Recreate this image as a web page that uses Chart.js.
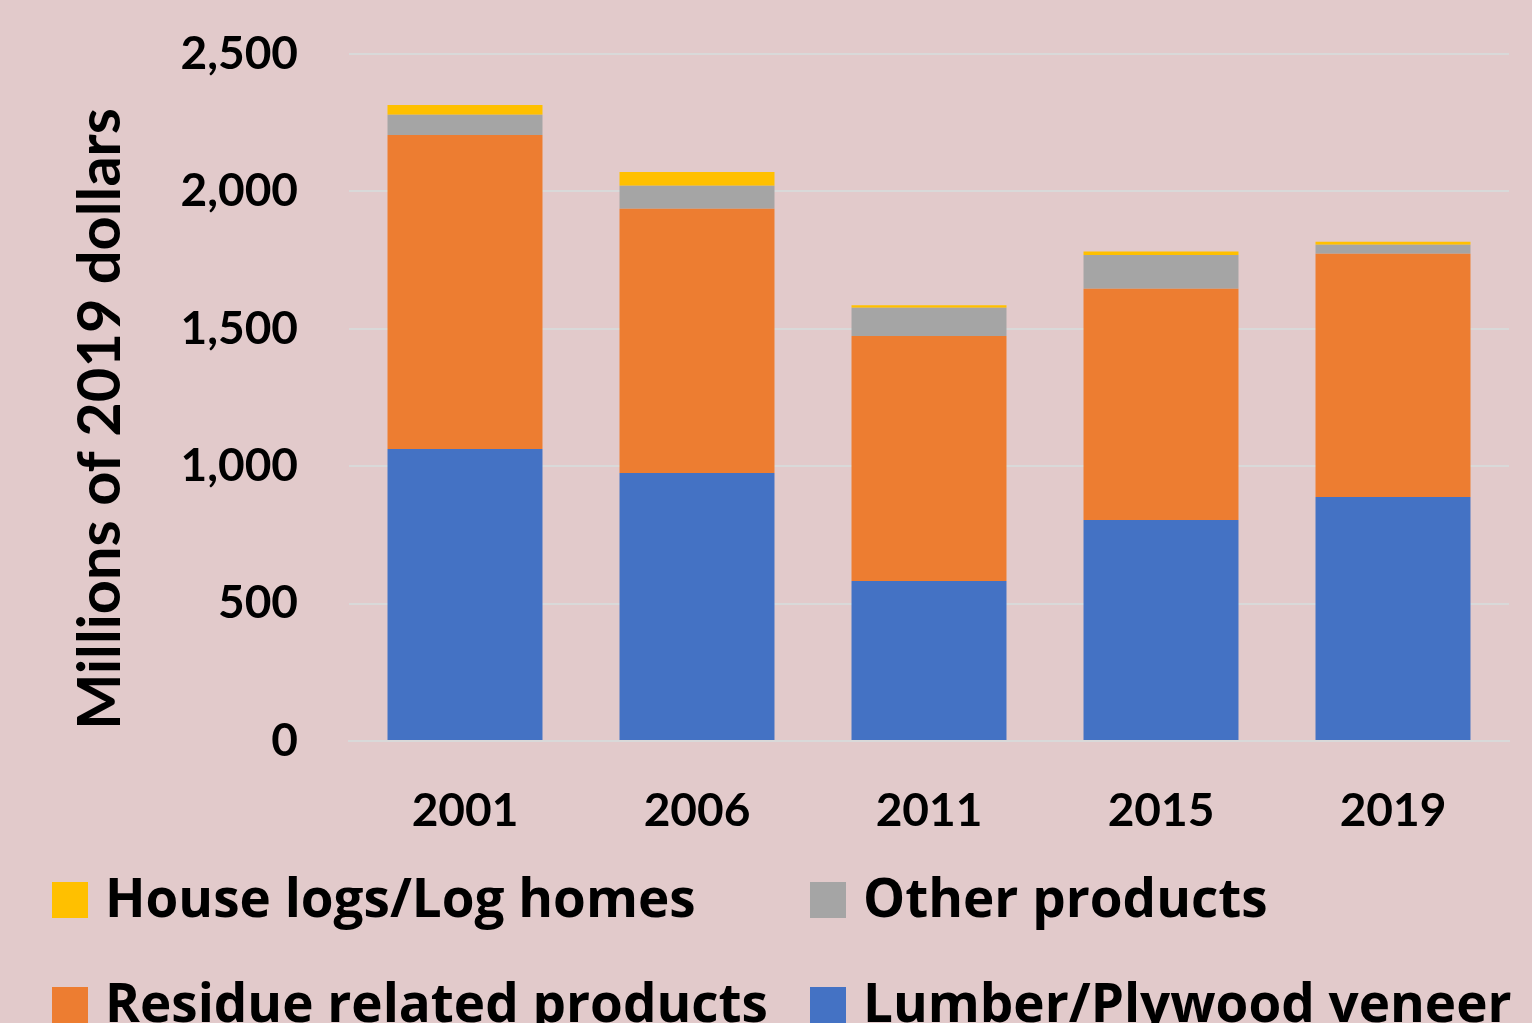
<!DOCTYPE html>
<html>
<head>
<meta charset="utf-8">
<script src="https://cdn.jsdelivr.net/npm/chart.js@4/dist/chart.umd.min.js"></script>
<style>
  html, body { margin:0; padding:0; background:#E2CACB; overflow:hidden; }
  #wrap { position:relative; width:1532px; height:1023px; }
  canvas { position:absolute; left:0; top:0; }
  .leg { position:absolute; display:flex; align-items:center; font-family:"Open Sans", sans-serif; font-weight:bold; font-size:53px; color:#000; white-space:nowrap; line-height:1; }
  .leg .box { width:36px; height:36px; margin-right:17px; flex:none; }
  .leg .txt { position:relative; top:-3px; }
</style>
</head>
<body>
<div id="wrap">
  <canvas id="c" width="1532" height="1023"></canvas>
  <div id="legend"></div>
</div>
<script>
const categories = ["2001", "2006", "2011", "2015", "2019"];
const lumberPlywood = [1063, 975, 582, 804, 888];
const residueProducts = [1142, 962, 892, 842, 885];
const otherProducts = [74, 84, 103, 123, 33];
const houseLogs = [35, 50, 9, 12, 11];
const yTicks = [0, 500, 1000, 1500, 2000, 2500];
const yTitle = "Millions of 2019 dollars";
const seriesNames = ["Lumber/Plywood veneer", "Residue related products", "Other products", "House logs/Log homes"];
const seriesColors = ["#4472C4", "#ED7D31", "#A5A5A5", "#FFC000"];
const seriesData = [lumberPlywood, residueProducts, otherProducts, houseLogs];

const datasets = seriesNames.map((n, i) => ({
  label: n,
  data: seriesData[i],
  backgroundColor: seriesColors[i],
  borderWidth: 0,
  categoryPercentage: 1.0,
  barPercentage: 0.668
}));

const font = { family: "Lato, sans-serif", weight: "bold", size: 46 };

// y-axis title drawn Excel-style (offset slightly below the axis centre)
const yTitlePlugin = {
  id: "yTitle",
  afterDraw(chart) {
    const ctx = chart.ctx;
    ctx.save();
    ctx.translate(101, 419);
    ctx.rotate(-Math.PI / 2);
    ctx.font = "bold 59.5px Lato, sans-serif";
    ctx.fillStyle = "#000";
    ctx.textAlign = "center";
    ctx.textBaseline = "middle";
    ctx.fillText(yTitle, 0, 0);
    ctx.restore();
  }
};

new Chart(document.getElementById("c"), {
  type: "bar",
  data: { labels: categories, datasets },
  options: {
    responsive: false,
    animation: false,
    layout: { padding: { top: 54, right: 23, left: 0, bottom: 0 } },
    plugins: { legend: { display: false }, tooltip: { enabled: false } },
    scales: {
      x: {
        stacked: true,
        grid: { display: false, drawTicks: false },
        border: { display: true, color: "#D9D9D9", width: 2 },
        ticks: { color: "#000", font, padding: 43 },
        afterFit: s => { s.height = 282; }
      },
      y: {
        stacked: true,
        min: 0, max: 2500,
        afterBuildTicks: s => { s.ticks = yTicks.map(v => ({ value: v })); },
        grid: { color: "#D9D9D9", lineWidth: 2, drawTicks: false },
        border: { display: false },
        ticks: { color: "#000", font, padding: 51, callback: v => v.toLocaleString("en-US") },
        afterFit: s => { s.width = 349; s.paddingTop = 20; s.paddingBottom = 20; }
      }
    }
  },
  plugins: [yTitlePlugin]
});

// legend in Excel-style 2-column grid (order: top series first)
const legendOrder = [3, 2, 1, 0];
const legPos = [[52, 881], [810, 881], [52, 986], [810, 986]];
const legEl = document.getElementById("legend");
legendOrder.forEach((si, k) => {
  const d = document.createElement("div");
  d.className = "leg";
  d.style.left = legPos[k][0] + "px";
  d.style.top = (legPos[k][1] - 8) + "px";
  const b = document.createElement("span");
  b.className = "box";
  b.style.background = seriesColors[si];
  const t = document.createElement("span");
  t.className = "txt";
  t.textContent = seriesNames[si];
  d.appendChild(b); d.appendChild(t);
  legEl.appendChild(d);
});
</script>
</body>
</html>
